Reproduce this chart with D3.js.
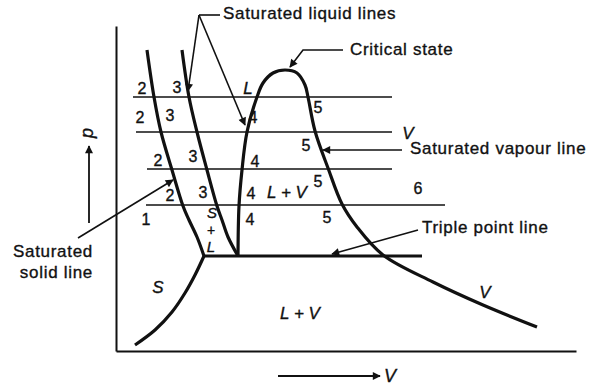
<!DOCTYPE html>
<html>
<head>
<meta charset="utf-8">
<script src="https://cdn.jsdelivr.net/npm/d3@7"></script>
<style>
  body { margin: 0; background: #fff; }
  svg { display: block; }
  text { font-family: "Liberation Sans", Arial, sans-serif; fill: #111; stroke: #111; stroke-width: 0.35; }
</style>
</head>
<body>
<svg id="chart"></svg>
<script>
// diagram units: V along x, p along y (arbitrary, no ticks)
var solidLine = [[31,301],[38,254],[45,219],[56,181],[67,145],[73,131],[81,114],[88,95]];
var sublimationLine = [[88,95],[79,76],[69,58],[56,39],[39,21],[19,6]];
var fusionLine = [[66,301],[73,254],[81,219],[91,181],[101,145],[106,131],[112,114],[122,95]];
var domeLine = [[122,95],[123,145],[126,181],[131,219],[141,254],[147,268],[157,278],[169,281],
    [181,278],[189,266],[192,254],[199,220],[212,183],[226,147],[241,124],[267,96],[317,69],[367,46],[421,24]];

// isobars: pressure, V start, V end
var isobars = [[254,17,276],[219,20,276],[182,31,276],[146,30,329]];
var triplePoint = [95,88,306];

var numLabels = [
    [26,263,"2"],[61,264,"3"],
    [24,234,"2"],[54,236,"3"],[137,234,"4"],[202,244,"5"],
    [42,191,"2"],[77,195,"3"],[139,190,"4"],[190,206,"5"],
    [54,156,"2"],[87,159,"3"],[135,158,"4"],[202,170,"5"],[302,163,"6"],
    [30,132,"1"],[134,132,"4"],[211,134,"5"]
];
var phaseLabels = [
    [132,263,"L"],[292,218,"V"],[171,159,"L + V"],
    [42,64,"S"],[184,38,"L + V"],[369,59,"V"]
];
// stacked S + L between solid and liquid lines (baselines in p units)
var stackLabels = [[96,133,"S",15],[95,116.5,"+",14],[95,99.5,"L",15]];

var callouts = [
    {lines: ["Saturated liquid lines"], at: [107,332], anchor: "start", legs: [[[104,336],[83,336]], [[83,336],[72,260]], [[83,336],[129,226]]], arrows: [false,true,true]},
    {lines: ["Critical state"], at: [234,296], anchor: "start", legs: [[[227,301],[187,301],[174,284]]], arrows: [true]},
    {lines: ["Saturated vapour line"], at: [294,197], anchor: "start", legs: [[[286,201],[207,201]]], arrows: [true]},
    {lines: ["Triple point line"], at: [306,118], anchor: "start", legs: [[[302,121],[216,97]]], arrows: [true]},
    {lines: ["Saturated", "solid line"], at: [-23,94], anchor: "end", legs: [[[-38,113],[57,171]]], arrows: [true]}
];

const svgWidth = 593, svgHeight = 385;

var svg = d3.select("#chart")
    .attr("width", svgWidth)
    .attr("height", svgHeight);

var x = d3.scaleLinear().domain([0, 460]).range([116, 576]);
var y = d3.scaleLinear().domain([0, 325]).range([351, 26]);

svg.append("defs").append("marker")
    .attr("id", "head")
    .attr("viewBox", "0 0 10 10")
    .attr("refX", 9).attr("refY", 5)
    .attr("markerWidth", 10).attr("markerHeight", 8)
    .attr("markerUnits", "userSpaceOnUse")
    .attr("orient", "auto")
    .append("path")
    .attr("d", "M0,0 L10,5 L0,10 z")
    .attr("fill", "#111");

// axes without ticks
svg.append("g")
    .attr("transform", "translate(" + x(0) + ",0)")
    .call(d3.axisLeft(y).ticks(0).tickSizeOuter(0));
svg.append("g")
    .attr("transform", "translate(0," + y(0) + ")")
    .call(d3.axisBottom(x).ticks(0).tickSizeOuter(0));
svg.selectAll(".domain")
    .attr("stroke", "#111")
    .attr("stroke-width", 2);

// isobars
svg.selectAll(".isobar")
    .data(isobars)
    .enter()
    .append("line")
    .attr("class", "isobar")
    .attr("x1", d => x(d[1]))
    .attr("x2", d => x(d[2]))
    .attr("y1", d => y(d[0]))
    .attr("y2", d => y(d[0]))
    .attr("stroke", "#111")
    .attr("stroke-width", 1.7);

svg.append("line")
    .attr("x1", x(triplePoint[1]))
    .attr("x2", x(triplePoint[2]))
    .attr("y1", y(triplePoint[0]))
    .attr("y2", y(triplePoint[0]))
    .attr("stroke", "#111")
    .attr("stroke-width", 3);

var curve = d3.line()
    .x(d => x(d[0]))
    .y(d => y(d[1]))
    .curve(d3.curveCatmullRom);

[solidLine, sublimationLine, fusionLine, domeLine].forEach(function(pts) {
    svg.append("path")
        .attr("d", curve(pts))
        .attr("fill", "none")
        .attr("stroke", "#111")
        .attr("stroke-width", 3.2)
        .attr("stroke-linejoin", "round");
});

// region labels
svg.selectAll(".num")
    .data(numLabels)
    .enter()
    .append("text")
    .attr("x", d => x(d[0]))
    .attr("y", d => y(d[1]))
    .attr("dy", "0.36em")
    .attr("text-anchor", "middle")
    .attr("font-size", 16)
    .text(d => d[2]);

svg.selectAll(".phase")
    .data(phaseLabels)
    .enter()
    .append("text")
    .attr("x", d => x(d[0]))
    .attr("y", d => y(d[1]))
    .attr("dy", "0.36em")
    .attr("text-anchor", "middle")
    .attr("font-size", 17)
    .attr("font-style", "italic")
    .text(d => d[2]);

svg.selectAll(".stack")
    .data(stackLabels)
    .enter()
    .append("text")
    .attr("x", d => x(d[0]))
    .attr("y", d => y(d[1]))
    .attr("text-anchor", "middle")
    .attr("font-size", d => d[3])
    .attr("font-style", d => d[2] === "+" ? "normal" : "italic")
    .text(d => d[2]);

// callouts
var leg = d3.line().x(d => x(d[0])).y(d => y(d[1]));
callouts.forEach(function(c) {
    c.legs.forEach(function(pts, i) {
        svg.append("path")
            .attr("d", leg(pts))
            .attr("fill", "none")
            .attr("stroke", "#111")
            .attr("stroke-width", 1.6)
            .attr("marker-end", c.arrows[i] ? "url(#head)" : null);
    });
    var t = svg.append("text")
        .attr("x", x(c.at[0]))
        .attr("y", y(c.at[1]))
        .attr("text-anchor", c.anchor)
        .attr("font-size", 17)
        .attr("letter-spacing", 0.7);
    c.lines.forEach(function(s, i) {
        t.append("tspan")
            .attr("x", x(c.at[0]))
            .attr("dy", i === 0 ? 0 : 21)
            .text(s);
    });
});

// axis arrows
svg.append("line")
    .attr("x1", x(-27)).attr("y1", y(128))
    .attr("x2", x(-27)).attr("y2", y(205))
    .attr("stroke", "#111").attr("stroke-width", 1.8)
    .attr("marker-end", "url(#head)");
svg.append("text")
    .attr("transform", "translate(" + x(-28) + "," + y(218) + ") rotate(-90)")
    .attr("text-anchor", "middle")
    .attr("dy", "0.3em")
    .attr("font-size", 18)
    .attr("font-style", "italic")
    .text("p");

svg.append("line")
    .attr("x1", x(162)).attr("y1", y(-25))
    .attr("x2", x(264)).attr("y2", y(-25))
    .attr("stroke", "#111").attr("stroke-width", 1.8)
    .attr("marker-end", "url(#head)");
svg.append("text")
    .attr("x", x(268))
    .attr("y", y(-25))
    .attr("dy", "0.36em")
    .attr("font-size", 18)
    .attr("font-style", "italic")
    .text("V");
</script>
</body>
</html>
